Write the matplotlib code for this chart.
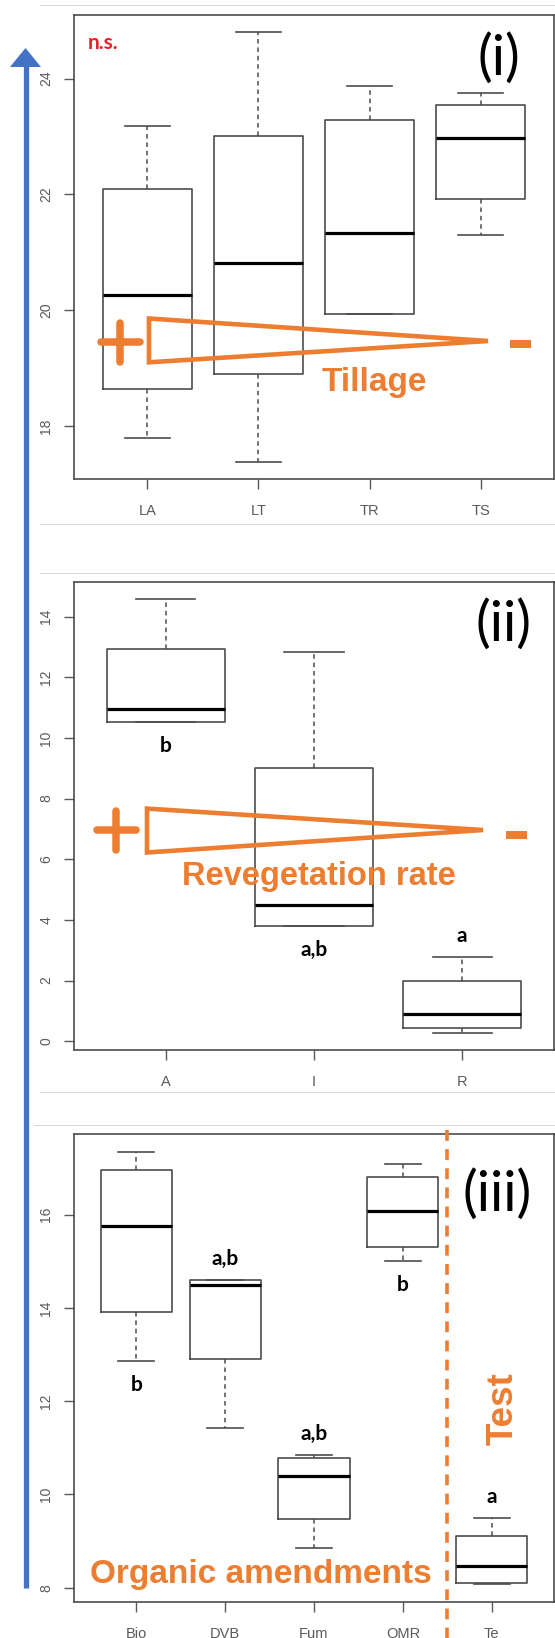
import matplotlib
matplotlib.use("Agg")
import matplotlib.pyplot as plt
from matplotlib.patches import Polygon

# panel (i) - tillage
till_labels = ["LA", "LT", "TR", "TS"]
till_whislo = [17.80, 17.38, 19.93, 21.30]
till_q1 = [18.65, 18.90, 19.93, 21.93]
till_med = [20.27, 20.81, 21.34, 22.97]
till_q3 = [22.09, 23.01, 23.29, 23.55]
till_whishi = [23.18, 24.81, 23.88, 23.75]

# panel (ii) - revegetation rate
reveg_labels = ["A", "I", "R"]
reveg_whislo = [10.53, 3.79, 0.28]
reveg_q1 = [10.53, 3.79, 0.45]
reveg_med = [10.94, 4.50, 0.88]
reveg_q3 = [12.94, 9.01, 1.97]
reveg_whishi = [14.57, 12.83, 2.79]
reveg_letters = ["b", "a,b", "a"]
reveg_letter_pos = ["below", "below", "above"]

# panel (iii) - organic amendments
org_labels = ["Bio", "DVB", "Fum", "OMR", "Te"]
org_whislo = [12.87, 11.42, 8.85, 15.01, 8.07]
org_q1 = [13.92, 12.91, 9.48, 15.30, 8.11]
org_med = [15.76, 14.50, 10.39, 16.08, 8.47]
org_q3 = [16.95, 14.60, 10.77, 16.81, 9.11]
org_whishi = [17.35, 14.60, 10.85, 17.08, 9.49]
org_letters = ["b", "a,b", "a,b", "b", "a"]
org_letter_pos = ["below", "above", "above", "below", "above"]

W, H = 555, 1638
ORANGE = "#ED7D31"
BLUE = "#4472C4"
GREY = "#4d4d4d"
TICK = "#5a5a5a"

fig = plt.figure(figsize=(W / 100, H / 100), dpi=100)
fig.patch.set_facecolor("white")


def add_panel(top, bottom):
    return fig.add_axes([74 / W, 1 - bottom / H, (554 - 74) / W, (bottom - top) / H])


def draw_panel(ax, labels, lo, q1, med, q3, hi, yticks):
    n = len(labels)
    stats = [dict(label=labels[i], whislo=lo[i], q1=q1[i], med=med[i], q3=q3[i], whishi=hi[i])
             for i in range(n)]
    ax.bxp(stats, positions=list(range(1, n + 1)), widths=0.8, capwidths=0.4,
           showfliers=False,
           boxprops=dict(color=GREY, lw=1.2),
           whiskerprops=dict(color=GREY, lw=1.1, linestyle=(0, (3, 2.5))),
           capprops=dict(color=GREY, lw=1.2),
           medianprops=dict(color="black", lw=2.3, solid_capstyle="butt"))
    # R-style 4% axis expansion
    ax.set_xlim(0.5 - 0.04 * n, n + 0.5 + 0.04 * n)
    ymin, ymax = min(lo), max(hi)
    r = ymax - ymin
    ax.set_ylim(ymin - 0.04 * r, ymax + 0.04 * r)
    ax.set_yticks(yticks)
    ax.set_yticklabels([str(t) for t in yticks])
    for s in ax.spines.values():
        s.set_color(GREY)
        s.set_linewidth(1.2)
    ax.tick_params(axis="both", colors=TICK, length=7, width=1.0, labelsize=10)
    ax.tick_params(axis="x", pad=11, labelsize=10.5)
    ax.tick_params(axis="y", labelrotation=90, pad=8)
    for lab in ax.get_yticklabels() + ax.get_xticklabels():
        lab.set_fontfamily("Liberation Sans")
        lab.set_color(TICK)
    for lab in ax.get_yticklabels():
        lab.set_va("center")


def add_letters(ax, letters, where, lo, q1, q3, hi):
    for i, (txt, w) in enumerate(zip(letters, where)):
        if w == "below":
            y, off = min(lo[i], q1[i]), -24
        else:
            y, off = max(hi[i], q3[i]), 21
        ax.annotate(txt, (i + 1, y), xytext=(0, off), textcoords="offset pixels",
                    ha="center", va="center", fontsize=15, fontweight="bold",
                    family="Lato", color="black")


ax1 = add_panel(14.5, 479.3)
draw_panel(ax1, till_labels, till_whislo, till_q1, till_med, till_q3, till_whishi, [18, 20, 22, 24])

ax2 = add_panel(582, 1050)
draw_panel(ax2, reveg_labels, reveg_whislo, reveg_q1, reveg_med, reveg_q3, reveg_whishi,
           [0, 2, 4, 6, 8, 10, 12, 14])
add_letters(ax2, reveg_letters, reveg_letter_pos, reveg_whislo, reveg_q1, reveg_q3, reveg_whishi)

ax3 = add_panel(1134.3, 1601.7)
draw_panel(ax3, org_labels, org_whislo, org_q1, org_med, org_q3, org_whishi, [8, 10, 12, 14, 16])
add_letters(ax3, org_letters, org_letter_pos, org_whislo, org_q1, org_q3, org_whishi)

# overlay in pixel coordinates for the annotations
ov = fig.add_axes([0, 0, 1, 1], zorder=10)
ov.set_xlim(0, W)
ov.set_ylim(H, 0)
ov.axis("off")
ov.patch.set_alpha(0)

# faint window frame lines
for y, x0 in [(5, 40), (524, 40), (572.7, 40), (1092, 40), (1124.7, 34)]:
    ov.plot([x0, W], [y, y], color="#d9d9d9", lw=0.8)

# blue arrow
ov.plot([25.5, 25.5], [1588, 64], color=BLUE, lw=3.8, solid_capstyle="butt")
ov.add_patch(Polygon([(10, 67), (41, 67), (25.5, 48)], closed=True, color=BLUE, lw=0))


def wedge(xl, ytop, ybot, xtip, ytip, pc, mx, my):
    ov.add_patch(Polygon([(xl, ytop), (xtip, ytip), (xl, ybot)], closed=True,
                         fill=False, ec=ORANGE, lw=3.3, joinstyle="miter"))
    # plus sign
    ov.plot([pc[0] - 19.5, pc[0] + 19.5], [pc[1], pc[1]], color=ORANGE, lw=5.4, solid_capstyle="round")
    ov.plot([pc[0], pc[0]], [pc[1] - 19.5, pc[1] + 19.5], color=ORANGE, lw=5.4, solid_capstyle="round")
    # minus sign
    ov.plot([mx - 10.5, mx + 10.5], [my, my], color=ORANGE, lw=5.8, solid_capstyle="butt")


wedge(149, 318.5, 362.3, 488, 341, (120, 342), 520.5, 344.3)
wedge(147, 808.6, 852.5, 483, 830, (116, 830), 516.5, 834.6)

big = dict(family="Liberation Sans", fontweight="bold", color=ORANGE, ha="center", va="center")
ov.text(374, 382, "Tillage", fontsize=24, **big)
ov.text(319, 876, "Revegetation rate", fontsize=23.5, **big)
ov.text(261, 1575, "Organic amendments", fontsize=24, **big)
ov.text(503, 1409, "Test", fontsize=26.5, rotation=90, **big)

# dashed separator for the test soil
ov.plot([446.7, 446.7], [1130, H], color=ORANGE, lw=2.6, linestyle=(0, (3.0, 2.3)))

ov.text(88, 43, "n.s.", fontsize=15, fontweight="bold", family="Lato", color="#E8202A",
        ha="left", va="center")
roman = dict(family="Lato", fontsize=40, color="black", ha="center", va="center")
ov.text(499, 59, "(i)", **roman)
ov.text(503, 625, "(ii)", **roman)
ov.text(497, 1195, "(iii)", **roman)

fig.savefig("out.png", dpi=100)
